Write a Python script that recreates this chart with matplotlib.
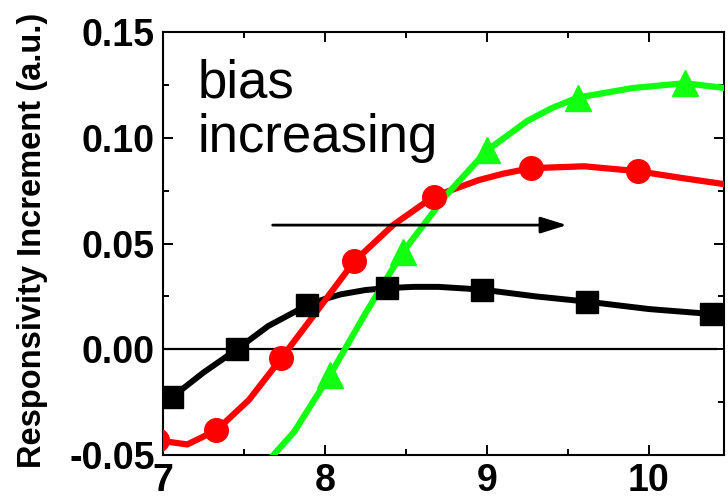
import numpy as np
import matplotlib
matplotlib.use("Agg")
import matplotlib.pyplot as plt
from matplotlib.ticker import MultipleLocator

plt.rcParams['font.family'] = ['Liberation Sans', 'DejaVu Sans']

# =========================
# DATEN
# =========================
# schwarz, Quadrate
schwarz_x = [7.0, 7.055, 7.25, 7.457, 7.65, 7.89, 8.0, 8.1, 8.25, 8.38, 8.55, 8.7, 8.97, 9.3, 9.62, 10.0, 10.38, 10.47]
schwarz_y = [-0.024, -0.0227, -0.011, 0.0, 0.011, 0.0208, 0.0238, 0.026, 0.028, 0.0289, 0.0295, 0.0295, 0.0282, 0.025, 0.0225, 0.019, 0.0167, 0.0163]
schwarz_mx = [7.055, 7.457, 7.89, 8.38, 8.97, 9.62, 10.38]
schwarz_my = [-0.0227, 0.0, 0.0208, 0.0289, 0.0282, 0.0225, 0.0167]

# rot, Kreise
rot_x = [6.96, 7.15, 7.33, 7.53, 7.73, 7.95, 8.18, 8.42, 8.67, 8.95, 9.1, 9.27, 9.6, 9.93, 10.2, 10.47]
rot_y = [-0.043, -0.045, -0.0383, -0.024, -0.0043, 0.018, 0.0415, 0.0587, 0.0722, 0.080, 0.083, 0.0856, 0.0865, 0.0842, 0.081, 0.078]
rot_mx = [6.96, 7.33, 7.73, 8.18, 8.67, 9.27, 9.93]
rot_my = [-0.043, -0.0383, -0.0043, 0.0415, 0.0722, 0.0856, 0.0842]

# gruen, Dreiecke
gruen_x = [7.6, 7.81, 8.03, 8.25, 8.48, 8.75, 9.0, 9.25, 9.4, 9.56, 9.9, 10.22, 10.47]
gruen_y = [-0.057, -0.039, -0.0123, 0.017, 0.0459, 0.073, 0.094, 0.108, 0.114, 0.119, 0.1235, 0.1258, 0.1235]
gruen_mx = [7.6, 8.03, 8.48, 9.0, 9.56, 10.22]
gruen_my = [-0.057, -0.0123, 0.0459, 0.094, 0.119, 0.1258]

# =========================
# PLOT
# =========================
fig = plt.figure(figsize=(7.28, 4.99), dpi=100)
ax = fig.add_axes([163/728, 44/499, 561/728, 423/499])

ax.axhline(0, xmin=0, xmax=0.985, color='k', lw=1.6, zorder=1)

ax.plot(schwarz_x, schwarz_y, '-k', lw=4.3, zorder=3, solid_joinstyle='round')
ax.plot(schwarz_mx, schwarz_my, 'ks', ms=16, zorder=4)

ax.plot(rot_x, rot_y, '-', color='#ff0000', lw=4.5, zorder=3, solid_joinstyle='round')
ax.plot(rot_mx, rot_my, 'o', color='#ff0000', ms=17, zorder=4)

ax.plot(gruen_x, gruen_y, '-', color='#11ff11', lw=4.5, zorder=3, solid_joinstyle='round')
ax.plot(gruen_mx, gruen_my, '^', color='#11ff11', ms=19, zorder=4)

ax.annotate('', xy=(9.51, 0.0587), xytext=(7.66, 0.0587),
            arrowprops=dict(arrowstyle='-|>,head_length=0.8,head_width=0.25',
                            mutation_scale=20, lw=2, color='k'))

ax.text(7.216, 0.1192, "bias", fontsize=38, va='baseline', ha='left')
ax.text(7.216, 0.0932, "increasing", fontsize=38, va='baseline', ha='left')

ax.set_xlim(7, 10.463)
ax.set_ylim(-0.05, 0.15)
ax.xaxis.set_major_locator(MultipleLocator(1))
ax.xaxis.set_minor_locator(MultipleLocator(0.5))
ax.yaxis.set_major_locator(MultipleLocator(0.05))
ax.yaxis.set_minor_locator(MultipleLocator(0.025))
ax.yaxis.set_major_formatter(plt.FuncFormatter(lambda v, p: f"{v:.2f}"))

ax.tick_params(which='both', direction='in', top=True, right=True, width=1.4)
ax.tick_params(which='major', length=7, labelsize=27)
ax.tick_params(which='minor', length=4.5)
ax.tick_params(axis='x', pad=6)
ax.tick_params(axis='y', pad=6)
for lab in ax.get_xticklabels() + ax.get_yticklabels():
    lab.set_fontweight('bold')
for s in ax.spines.values():
    s.set_linewidth(1.5)

fig.text(33/728, 1 - 240/499, "Responsivity Increment (a.u.)", rotation=90,
         fontsize=23.5, fontweight='bold', ha='center', va='center')

plt.savefig("out.png", dpi=100)
plt.close()
